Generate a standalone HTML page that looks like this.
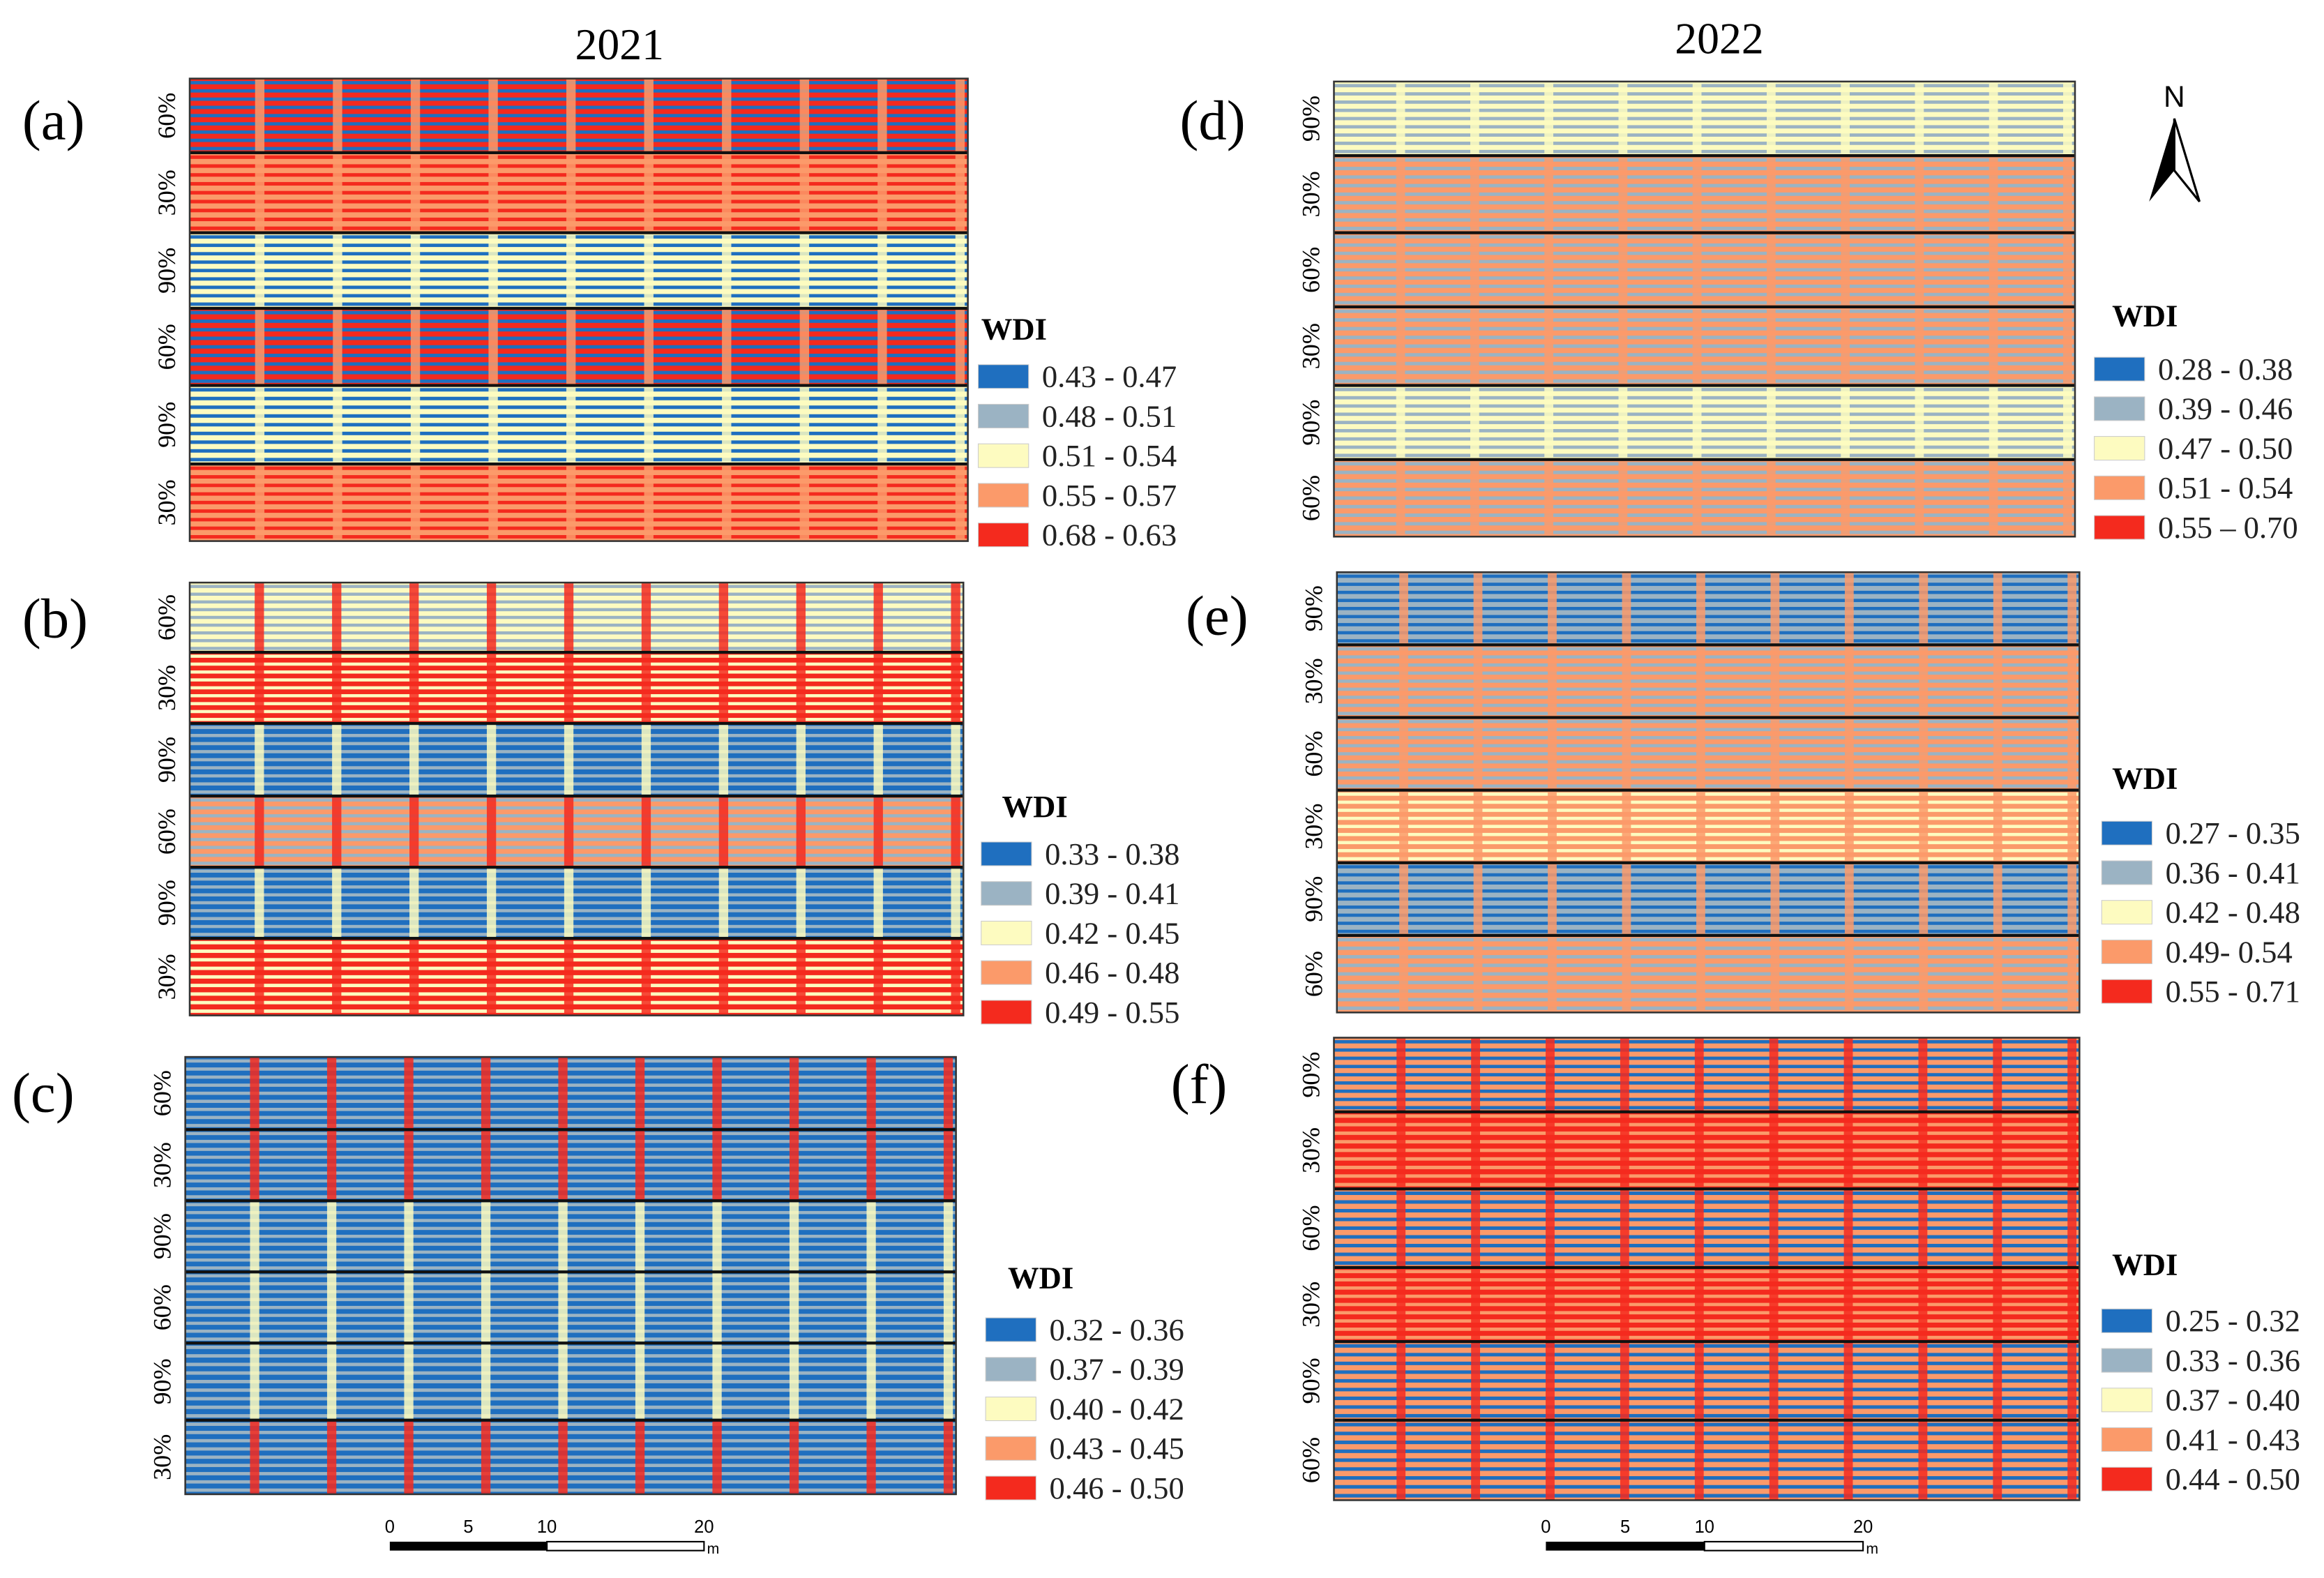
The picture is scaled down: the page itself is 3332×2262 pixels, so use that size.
<!DOCTYPE html>
<html><head><meta charset="utf-8"><style>
html,body{margin:0;padding:0;background:#fff;}
svg{display:block;font-family:"Liberation Serif",serif;}
</style></head><body>
<svg id="fig" width="3332" height="2262" viewBox="0 0 1568 1064.5" preserveAspectRatio="none" xmlns="http://www.w3.org/2000/svg">
<rect width="1568" height="1064.5" fill="#fff"/>
<text x="418" y="40" font-size="30" text-anchor="middle">2021</text>
<text x="1160" y="36" font-size="30" text-anchor="middle">2022</text>
<g id="maps"></g>
<g>
<text x="1467" y="72" font-size="20" text-anchor="middle" font-family="Liberation Sans,sans-serif">N</text>
<polygon points="1467,80 1450,136 1467,115" fill="#000"/>
<polygon points="1467,80 1484,136 1467,115" fill="#fff" stroke="#000" stroke-width="1.5"/>
</g>
</svg>
<script>
const C={B:'#1f6fbf',G:'#9bb3c3',Y:'#fdfbc0',O:'#fb9a6a',R:'#f42a1e'};
const panelLetters=['(a)','(b)','(c)','(d)','(e)','(f)'];
const rowLabels=[
 ['60%','30%','90%','60%','90%','30%'],
 ['60%','30%','90%','60%','90%','30%'],
 ['60%','30%','90%','60%','90%','30%'],
 ['90%','30%','60%','30%','90%','60%'],
 ['90%','30%','60%','30%','90%','60%'],
 ['90%','30%','60%','30%','90%','60%']];
// band codes: base, stripe, column
const bandColors=[
 ['RBO','ORO','YBY','RBO','YBY','ORO'],
 ['YGR','RYR','BGY','OGR','BGY','RYR'],
 ['BGR','BGR','BGY','BGY','BGY','BGR'],
 ['YGY','OGO','OGO','OGO','YGY','OGO'],
 ['GBO','OGO','OGO','OYO','GBO','OGO'],
 ['OBR','ROR','OBR','ROR','OBR','OBR']];
const legendLabels=[
 ['0.43 - 0.47','0.48 - 0.51','0.51 - 0.54','0.55 - 0.57','0.68 - 0.63'],
 ['0.33 - 0.38','0.39 - 0.41','0.42 - 0.45','0.46 - 0.48','0.49 - 0.55'],
 ['0.32 - 0.36','0.37 - 0.39','0.40 - 0.42','0.43 - 0.45','0.46 - 0.50'],
 ['0.28 - 0.38','0.39 - 0.46','0.47 - 0.50','0.51 - 0.54','0.55 – 0.70'],
 ['0.27 - 0.35','0.36 - 0.41','0.42 - 0.48','0.49- 0.54','0.55 - 0.71'],
 ['0.25 - 0.32','0.33 - 0.36','0.37 - 0.40','0.41 - 0.43','0.44 - 0.50']];
const scaleTicks=['0','5','10','20'];
const legendColors=['B','G','Y','O','R'];
// layout (not data)
const P=[
 {x0:128,x1:653,y:[53,103,157,208,260,313,365],lx:662,ly:222,ix:660,iy:254,lt:[15,94]},
 {x0:128,x1:650,y:[393,440,488,537,585,633,685],lx:676,ly:544,ix:662,iy:576,lt:[15,430]},
 {x0:125,x1:645,y:[713,762,810,858,906,958,1008],lx:680,ly:862,ix:665,iy:897,lt:[8,750]},
 {x0:900,x1:1400,y:[55,105,157,207,260,310,362],lx:1425,ly:213,ix:1413,iy:249,lt:[796,94]},
 {x0:902,x1:1403,y:[386,435,484,533,582,631,683],lx:1425,ly:525,ix:1418,iy:562,lt:[800,428]},
 {x0:900,x1:1403,y:[700,750,802,855,905,958,1012],lx:1425,ly:853,ix:1418,iy:891,lt:[790,744]}];
const NS='http://www.w3.org/2000/svg';
const root=document.getElementById('maps');
function mk(t,a,p){const e=document.createElementNS(NS,t);for(const k in a)e.setAttribute(k,a[k]);(p||root).appendChild(e);return e;}
P.forEach((p,i)=>{
 const g=mk('g',{});
 
 
 const w=p.x1-p.x0, ncol=10, cw=w/ncol;
 for(let b=0;b<6;b++){
  const [base,str,col]=bandColors[i][b].split('');
  const y0=p.y[b],y1=p.y[b+1],h=y1-y0;
  const band=mk('rect',{x:p.x0,y:y0,width:w,height:h,fill:C[base]},g);
  
  
  const n=9,pitch=h/n;
  for(let s=0;s<n;s++){
   mk('rect',{x:p.x0,y:y0+s*pitch+pitch*0.3,width:w,height:pitch*0.4,fill:C[str]},g);
  }
  for(let c=0;c<ncol;c++){
   mk('rect',{x:p.x0+c*cw+cw*0.84,y:y0,width:cw*0.12,height:h,fill:C[col],opacity:0.85},g);
  }
  const lab=mk('text',{x:0,y:0,'font-size':17,'text-anchor':'middle',transform:`translate(${p.x0-10},${(y0+y1)/2}) rotate(-90)`},g);
  lab.textContent=rowLabels[i][b];
  
  
 }
 for(let b=1;b<6;b++) mk('line',{x1:p.x0,x2:p.x1,y1:p.y[b],y2:p.y[b],stroke:'#111','stroke-width':2},g);
 mk('rect',{x:p.x0,y:p.y[0],width:w,height:p.y[6]-p.y[0],fill:'none',stroke:'#333','stroke-width':1.2},g);
 const L=mk('text',{x:p.lt[0],y:p.lt[1],'font-size':38},g);
 L.textContent=panelLetters[i];
 
 
 const lg=mk('g',{});
 
 
 const t=mk('text',{x:p.lx,y:p.ly+7,'font-size':21,'font-weight':'bold'},lg);
 t.textContent='WDI';
 legendLabels[i].forEach((s,k)=>{
  const yy=p.iy+k*26.7;
  mk('rect',{x:p.ix,y:yy-8,width:34,height:16,fill:C[legendColors[k]],stroke:'#ccc','stroke-width':0.5},lg);
  const tx=mk('text',{x:p.ix+43,y:yy+7,'font-size':21,fill:'#222'},lg);
  tx.textContent=s;
  
  
 });
});
[[263,475],[1043,1257]].forEach(([a,b])=>{
 const g=mk('g',{});
 
 
 const u=(b-a)/20, vals=scaleTicks.map(Number);
 mk('rect',{x:a,y:1040,width:u*10,height:6,fill:'#000'},g);
 mk('rect',{x:a+u*10,y:1040,width:u*10,height:6,fill:'#fff',stroke:'#000','stroke-width':1},g);
 vals.forEach((v,k)=>{
  const tx=mk('text',{x:a+v*u,y:1034,'font-size':12,'text-anchor':'middle','font-family':'Liberation Sans,sans-serif'},g);
  tx.textContent=scaleTicks[k];
 });
 const m=mk('text',{x:b+2,y:1048,'font-size':10,'font-family':'Liberation Sans,sans-serif'},g);
 m.textContent='m';
});
</script>
</body></html>
